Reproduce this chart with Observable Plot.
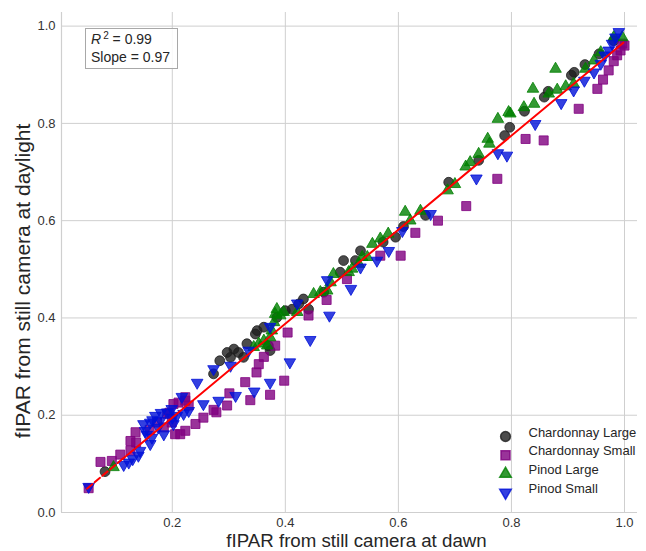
<!DOCTYPE html>
<html><head><meta charset="utf-8">
<script src="https://cdn.jsdelivr.net/npm/d3@7"></script>
<script src="https://cdn.jsdelivr.net/npm/@observablehq/plot@0.6"></script>
<style>
body{margin:0;background:#fff;}
#wrap{position:relative;width:646px;height:551px;font-family:"Liberation Sans",Arial,sans-serif;}
#note{position:absolute;left:85px;top:28px;width:93px;height:41px;box-sizing:border-box;border:1.5px solid #a8a8a8;background:rgba(255,255,255,0.85);font-size:14px;line-height:16px;color:#262626;padding:2px 0 0 5px;white-space:nowrap;}
#note sup{font-size:10px;vertical-align:0;position:relative;top:-5px;margin-left:2px;}
#ylab{position:absolute;left:23px;top:281px;transform:translate(-50%,-50%) rotate(-90deg);white-space:nowrap;font-size:21px;line-height:24px;color:#262626;}
</style></head>
<body><div id="wrap"></div>
<script>
const seriesNames = ["Chardonnay Large", "Chardonnay Small", "Pinod Large", "Pinod Small"];
const xLabel = "fIPAR from still camera at dawn";
const yLabel = "fIPAR from still camera at daylight";
const xTicks = [0.2, 0.4, 0.6, 0.8, 1.0];
const yTicks = [0.0, 0.2, 0.4, 0.6, 0.8, 1.0];
const r2Text = "0.99";
const slopeText = "0.97";

const chardLargeX = [0.081,0.273,0.284,0.297,0.303,0.309,0.317,0.326,0.332,0.347,0.350,0.362,0.370,0.373,0.385,0.400,0.412,0.424,0.432,0.441,0.468,0.497,0.503,0.524,0.533,0.573,0.595,0.609,0.648,0.689,0.742,0.788,0.797,0.823,0.858,0.865,0.906,0.911,0.930,0.955,0.981];
const chardLargeY = [0.084,0.285,0.312,0.329,0.319,0.336,0.329,0.319,0.347,0.367,0.374,0.381,0.343,0.333,0.401,0.415,0.418,0.429,0.439,0.418,0.453,0.494,0.518,0.518,0.538,0.556,0.566,0.588,0.611,0.679,0.724,0.775,0.792,0.825,0.854,0.866,0.899,0.905,0.921,0.943,0.970];

const chardSmallX = [0.052,0.073,0.093,0.108,0.126,0.136,0.135,0.126,0.160,0.173,0.185,0.191,0.195,0.199,0.202,0.211,0.223,0.205,0.214,0.223,0.223,0.229,0.241,0.255,0.273,0.278,0.297,0.301,0.329,0.338,0.349,0.353,0.362,0.373,0.382,0.398,0.404,0.441,0.473,0.509,0.568,0.604,0.630,0.670,0.720,0.775,0.825,0.857,0.919,0.952,0.962,0.972,0.981,0.987,0.993,1.000,0.996];
const chardSmallY = [0.050,0.104,0.106,0.119,0.127,0.144,0.165,0.147,0.170,0.185,0.175,0.203,0.205,0.185,0.223,0.226,0.230,0.161,0.161,0.168,0.237,0.220,0.182,0.195,0.211,0.206,0.220,0.245,0.268,0.231,0.288,0.305,0.320,0.242,0.343,0.271,0.370,0.405,0.437,0.480,0.528,0.528,0.575,0.600,0.630,0.686,0.768,0.765,0.830,0.871,0.890,0.909,0.928,0.940,0.950,0.960,0.964];

const pinodLargeX = [0.096,0.344,0.353,0.362,0.368,0.373,0.376,0.380,0.382,0.385,0.391,0.397,0.421,0.450,0.462,0.474,0.480,0.485,0.512,0.518,0.530,0.536,0.545,0.554,0.568,0.582,0.612,0.621,0.639,0.687,0.700,0.719,0.727,0.742,0.758,0.761,0.776,0.795,0.798,0.822,0.838,0.840,0.866,0.878,0.881,0.896,0.910,0.931,0.946,0.958,0.981,0.996];
const pinodLargeY = [0.093,0.340,0.347,0.353,0.343,0.360,0.374,0.391,0.408,0.418,0.405,0.412,0.412,0.449,0.453,0.456,0.473,0.490,0.494,0.501,0.511,0.525,0.525,0.552,0.563,0.573,0.618,0.600,0.620,0.662,0.675,0.711,0.720,0.737,0.768,0.758,0.809,0.823,0.820,0.833,0.871,0.840,0.861,0.912,0.869,0.876,0.881,0.912,0.929,0.946,0.977,0.977];

const pinodSmallX = [0.052,0.114,0.123,0.130,0.140,0.143,0.155,0.161,0.164,0.149,0.152,0.161,0.165,0.170,0.175,0.179,0.180,0.185,0.191,0.199,0.200,0.202,0.208,0.217,0.220,0.229,0.244,0.255,0.282,0.312,0.345,0.373,0.273,0.303,0.335,0.373,0.408,0.421,0.444,0.474,0.478,0.516,0.533,0.562,0.583,0.607,0.657,0.738,0.776,0.792,0.842,0.888,0.910,0.929,0.946,0.958,0.965,0.972,0.978,0.984,0.990];
const pinodSmallY = [0.053,0.098,0.103,0.110,0.117,0.127,0.160,0.141,0.154,0.182,0.168,0.185,0.190,0.199,0.175,0.189,0.205,0.161,0.206,0.213,0.195,0.182,0.199,0.238,0.203,0.209,0.267,0.223,0.230,0.240,0.249,0.267,0.295,0.302,0.333,0.382,0.309,0.430,0.355,0.478,0.405,0.460,0.504,0.518,0.538,0.579,0.614,0.687,0.739,0.734,0.799,0.842,0.868,0.888,0.905,0.923,0.940,0.950,0.964,0.977,0.988];

const fitDashX = [0.049, 0.115];
const fitDashY = [0.049, 0.113];
const fitSolidX = [0.112, 0.998];
const fitSolidY = [0.110, 0.966];

const toRows = (xs, ys) => xs.map((x, i) => ({x, y: ys[i]}));
const sqrt3 = Math.sqrt(3);
const triangleDown = {
  draw(context, size) {
    const y = -Math.sqrt(size / (sqrt3 * 3));
    context.moveTo(0, -y * 2);
    context.lineTo(-sqrt3 * y, y);
    context.lineTo(sqrt3 * y, y);
    context.closePath();
  }
};
const styles = [
  {symbol: "circle", r: 4.9, color: "#1e1e1e"},
  {symbol: "square", r: 5.1, color: "#800080"},
  {symbol: "triangle", r: 4.3, color: "#008000"},
  {symbol: triangleDown, r: 4.3, color: "#0010d8"}
];
const seriesData = [
  toRows(chardLargeX, chardLargeY),
  toRows(chardSmallX, chardSmallY),
  toRows(pinodLargeX, pinodLargeY),
  toRows(pinodSmallX, pinodSmallY)
];

const grid = "#cfcfcf";
const marks = [
  Plot.gridX(xTicks, {stroke: grid, strokeOpacity: 1, strokeWidth: 1}),
  Plot.gridY(yTicks, {stroke: grid, strokeOpacity: 1, strokeWidth: 1}),
  Plot.ruleX([0.004], {stroke: grid, strokeWidth: 1.2}),
  Plot.ruleY([0], {stroke: grid, strokeWidth: 1.2}),
  Plot.axisX(xTicks, {tickSize: 0, tickPadding: 5, tickFormat: d3.format(".1f"), fontSize: 13, color: "#333", label: null}),
  Plot.axisY(yTicks, {tickSize: 0, tickPadding: 6, tickFormat: d3.format(".1f"), fontSize: 13, color: "#333", label: null}),
  Plot.text([xLabel], {text: d => d, frameAnchor: "bottom", dx: 7, dy: 34, fontSize: 18.7, fill: "#262626"})
];
seriesData.forEach((rows, i) => {
  const s = styles[i];
  marks.push(Plot.dot(rows, {x: "x", y: "y", symbol: s.symbol, r: s.r, fill: s.color, fillOpacity: 0.8, stroke: s.color, strokeOpacity: 0.8, strokeWidth: 1}));
});
marks.push(Plot.line(toRows(fitDashX, fitDashY), {x: "x", y: "y", stroke: "red", strokeWidth: 2, strokeDasharray: "7,3"}));
marks.push(Plot.line(toRows(fitSolidX, fitSolidY), {x: "x", y: "y", stroke: "red", strokeWidth: 2}));
seriesNames.forEach((name, i) => {
  const s = styles[i];
  const dy = -76 + i * 18.7;
  marks.push(Plot.dot([name], {frameAnchor: "bottom-right", dx: -132, dy, symbol: s.symbol, r: s.r, fill: s.color, fillOpacity: 0.8, stroke: s.color, strokeOpacity: 0.8}));
  marks.push(Plot.text([name], {text: d => d, frameAnchor: "bottom-right", dx: -109, dy, textAnchor: "start", fontSize: 13, fill: "#262626"}));
});

const chart = Plot.plot({
  width: 646, height: 551,
  marginLeft: 61, marginRight: 9, marginTop: 12, marginBottom: 39,
  style: {fontFamily: "'Liberation Sans', Arial, sans-serif", background: "#fff", overflow: "visible"},
  x: {domain: [0.004, 1.023]},
  y: {domain: [0, 1.028]},
  marks
});
const wrap = document.getElementById("wrap");
wrap.appendChild(chart);
const ylab = document.createElement("div");
ylab.id = "ylab";
ylab.textContent = yLabel;
wrap.appendChild(ylab);
const note = document.createElement("div");
note.id = "note";
note.innerHTML = `<i>R</i><sup>2</sup> = ${r2Text}<br>Slope = ${slopeText}`;
wrap.appendChild(note);
</script>
</body></html>
